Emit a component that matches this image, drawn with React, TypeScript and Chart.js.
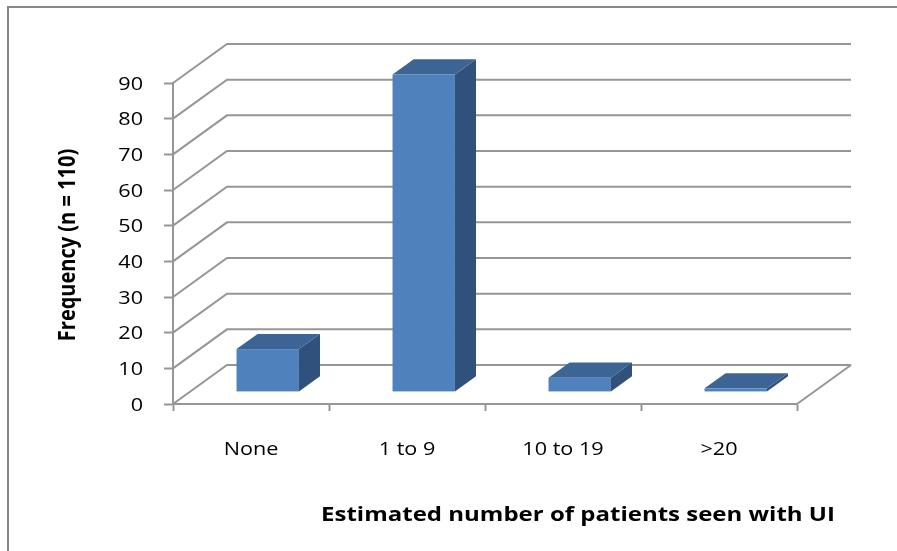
import React, { useEffect, useRef } from 'react';
import { Chart, registerables } from 'chart.js';

Chart.register(...registerables);

// Survey answers: how many patients with UI each respondent estimates they have seen
const categories = ['None', '1 to 9', '10 to 19', '>20'];
const frequencies = [12, 89, 4, 1];
const yTickValues = [0, 10, 20, 30, 40, 50, 60, 70, 80, 90];
const yAxisTitle = 'Frequency (n = 110)';
const xAxisTitle = 'Estimated number of patients seen with UI';

const FONT = "'Open Sans', 'DejaVu Sans', sans-serif";
const TEXT_STRETCH = 1.2; // the chart's lettering is set wide
const GRID = '#969696';
const FRAME = '#878787';
const FRONT = '#4f81bd';
const TOP = '#3c6494';
const SIDE = '#30517b';

// oblique projection of the floor/side wall, and where the bars sit inside that depth
const WALL_DX = 54;
const WALL_DY = 39;
const BAR_FRONT = 0.31;
const BAR_BACK = 0.7;

function wideText(ctx: CanvasRenderingContext2D, text: string, x: number, y: number, align: CanvasTextAlign) {
  ctx.save();
  ctx.translate(x, y);
  ctx.scale(TEXT_STRETCH, 1);
  ctx.textAlign = align;
  ctx.textBaseline = 'alphabetic';
  ctx.fillText(text, 0, 0);
  ctx.restore();
}

const excel3d = {
  id: 'excel3d',
  beforeDatasetsDraw(chart: any) {
    const { ctx, chartArea: a, scales } = chart;
    const y = scales.y;
    ctx.save();
    // outer chart frame
    ctx.strokeStyle = FRAME;
    ctx.lineWidth = 2;
    ctx.beginPath();
    ctx.moveTo(8, chart.height + 10);
    ctx.lineTo(8, 7);
    ctx.lineTo(chart.width + 10, 7);
    ctx.stroke();

    // back wall gridlines joined to the front axis by side wall diagonals
    ctx.strokeStyle = GRID;
    ctx.lineWidth = 2;
    y.ticks.forEach((t: any) => {
      const yf = y.getPixelForValue(t.value);
      ctx.beginPath();
      ctx.moveTo(a.left, yf);
      ctx.lineTo(a.left + WALL_DX, yf - WALL_DY);
      ctx.lineTo(a.right + WALL_DX, yf - WALL_DY);
      ctx.stroke();
    });
    // right edge of the floor
    ctx.beginPath();
    ctx.moveTo(a.right, a.bottom);
    ctx.lineTo(a.right + WALL_DX, a.bottom - WALL_DY);
    ctx.stroke();
    ctx.restore();
  },
  afterDatasetsDraw(chart: any) {
    const { ctx } = chart;
    const meta = chart.getDatasetMeta(0);
    const fdx = WALL_DX * BAR_FRONT;
    const fdy = WALL_DY * BAR_FRONT;
    const ddx = WALL_DX * (BAR_BACK - BAR_FRONT);
    const ddy = WALL_DY * (BAR_BACK - BAR_FRONT);
    ctx.save();
    meta.data.forEach((el: any) => {
      const { x, y, base, width } = el.getProps(['x', 'y', 'base', 'width'], true);
      const x1 = x - width / 2 + fdx;
      const x2 = x + width / 2 + fdx;
      const yt = y - fdy;
      const yb = base - fdy;
      // right side
      ctx.fillStyle = SIDE;
      ctx.beginPath();
      ctx.moveTo(x2, yt);
      ctx.lineTo(x2 + ddx, yt - ddy);
      ctx.lineTo(x2 + ddx, yb - ddy);
      ctx.lineTo(x2, yb);
      ctx.closePath();
      ctx.fill();
      // top
      ctx.fillStyle = TOP;
      ctx.beginPath();
      ctx.moveTo(x1, yt);
      ctx.lineTo(x2, yt);
      ctx.lineTo(x2 + ddx, yt - ddy);
      ctx.lineTo(x1 + ddx, yt - ddy);
      ctx.closePath();
      ctx.fill();
      // front
      ctx.fillStyle = FRONT;
      ctx.fillRect(x1, yt, x2 - x1, yb - yt);
    });
    ctx.restore();
  },
  afterDraw(chart: any) {
    const { ctx, scales } = chart;
    const { x, y } = scales;
    ctx.save();
    ctx.fillStyle = '#000';

    // tick labels
    ctx.font = `18px ${FONT}`;
    yTickValues.forEach((v) => {
      wideText(ctx, String(v), 143, y.getPixelForValue(v) + 6.5, 'right');
    });
    categories.forEach((c, i) => {
      wideText(ctx, c, x.getPixelForValue(i), 455, 'center');
    });

    // axis titles
    ctx.font = `bold 20px ${FONT}`;
    wideText(ctx, xAxisTitle, 578, 521, 'center');
    ctx.save();
    ctx.translate(75, 245);
    ctx.rotate(-Math.PI / 2);
    ctx.scale(1, TEXT_STRETCH);
    ctx.textAlign = 'center';
    ctx.textBaseline = 'alphabetic';
    ctx.fillText(yAxisTitle, 0, 0);
    ctx.restore();

    ctx.restore();
  },
};

export default function App() {
  const canvasRef = useRef<HTMLCanvasElement>(null);

  useEffect(() => {
    const canvas = canvasRef.current;
    if (!canvas) return;
    const chart = new Chart(canvas, {
      type: 'bar',
      data: {
        labels: categories,
        datasets: [
          {
            data: frequencies,
            backgroundColor: 'rgba(0,0,0,0)',
            borderWidth: 0,
            categoryPercentage: 1,
            barPercentage: 0.4,
          },
        ],
      },
      options: {
        animation: false,
        responsive: false,
        devicePixelRatio: 1,
        layout: { padding: { top: 83, right: 100, left: 0, bottom: 0 } },
        plugins: {
          legend: { display: false },
          tooltip: { enabled: false },
          title: { display: false },
        },
        scales: {
          x: {
            type: 'category',
            offset: true,
            grid: {
              offset: true,
              drawOnChartArea: false,
              drawTicks: true,
              tickLength: 7,
              tickWidth: 2,
              tickColor: GRID,
            },
            border: { display: true, color: GRID, width: 2 },
            ticks: { display: false },
            afterFit: (s: any) => {
              s.height = 147;
            },
          },
          y: {
            min: 0,
            max: 90,
            afterBuildTicks: (s: any) => {
              s.ticks = yTickValues.map((v) => ({ value: v }));
            },
            grid: {
              drawOnChartArea: false,
              drawTicks: true,
              tickLength: 9,
              tickWidth: 2,
              tickColor: GRID,
            },
            border: { display: true, color: GRID, width: 2 },
            ticks: { display: false },
            afterFit: (s: any) => {
              s.width = 173;
            },
          },
        },
      },
      plugins: [excel3d],
    });
    return () => chart.destroy();
  }, []);

  return (
    <div style={{ position: 'fixed', left: 0, top: 0, width: 897, height: 551, background: '#fff' }}>
      <canvas ref={canvasRef} width={897} height={551} style={{ display: 'block' }} />
    </div>
  );
}
